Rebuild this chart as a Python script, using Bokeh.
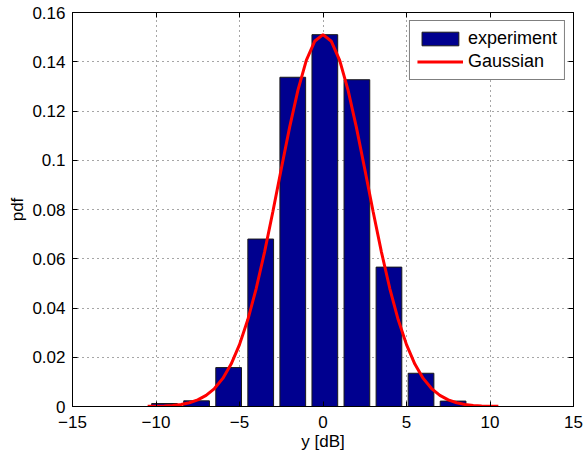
from bokeh.plotting import figure
from bokeh.models import Range1d, FixedTicker, LinearAxis, Legend, LegendItem
from bokeh.embed import file_html
from bokeh.resources import INLINE

# ---- data ----
bin_centers = [-9.49, -7.57, -5.65, -3.73, -1.81, 0.11, 2.03, 3.95, 5.87, 7.79]
pdf_values = [0.0012, 0.0023, 0.0158, 0.0680, 0.1337, 0.1510, 0.1327, 0.0566, 0.0135, 0.0022]

gauss_x = [-10.5, -10.0, -9.5, -9.0, -8.5, -8.0, -7.5, -7.0, -6.5, -6.0, -5.5, -5.0,
           -4.5, -4.0, -3.5, -3.0, -2.5, -2.0, -1.5, -1.0, -0.5, 0.0,
           0.5, 1.0, 1.5, 2.0, 2.5, 3.0, 3.5, 4.0, 4.5, 5.0, 5.5, 6.0,
           6.5, 7.0, 7.5, 8.0, 8.5, 9.0, 9.5, 10.0, 10.5]
gauss_y = [0.00006, 0.00012, 0.00023, 0.00045, 0.00085, 0.00153, 0.00267, 0.00449,
           0.00729, 0.01141, 0.01724, 0.02513, 0.03532, 0.04791, 0.06271, 0.07917,
           0.09643, 0.11334, 0.12849, 0.14055, 0.14831, 0.15100,
           0.14831, 0.14055, 0.12849, 0.11334, 0.09643, 0.07917, 0.06271, 0.04791,
           0.03532, 0.02513, 0.01724, 0.01141, 0.00729, 0.00449, 0.00267, 0.00153,
           0.00085, 0.00045, 0.00023, 0.00012, 0.00006]

x_ticks = [-15, -10, -5, 0, 5, 10, 15]
x_tick_labels = ["\u221215", "\u221210", "\u22125", "0", "5", "10", "15"]
y_ticks = [0, 0.02, 0.04, 0.06, 0.08, 0.1, 0.12, 0.14, 0.16]
y_tick_labels = ["0", "0.02", "0.04", "0.06", "0.08", "0.1", "0.12", "0.14", "0.16"]

series_names = ["experiment", "Gaussian"]
x_label = "y [dB]"
y_label = "pdf"

bar_width = 1.54
FONT = "Liberation Sans"
FS = "17px"

p = figure(width=584, height=454, output_backend="svg", toolbar_location=None,
           x_range=Range1d(-15, 15), y_range=Range1d(0, 0.16),
           min_border_left=72, min_border_right=11, min_border_top=12, min_border_bottom=48)
p.background_fill_color = "white"
p.border_fill_color = "white"
p.outline_line_color = "black"
p.outline_line_width = 1

bars = p.vbar(x=bin_centers, top=pdf_values, width=bar_width,
              fill_color="#00008F", line_color="#1a1a1a", line_width=1)
line = p.line(gauss_x, gauss_y, line_color="#FF0000", line_width=3)

xt = FixedTicker(ticks=x_ticks)
yt = FixedTicker(ticks=y_ticks)

for ax in p.xaxis:
    ax.ticker = xt
    ax.major_label_overrides = {t: l for t, l in zip(x_ticks, x_tick_labels)}
    ax.axis_label = x_label
    ax.major_label_standoff = 9
    ax.axis_label_standoff = 1
for ax in p.yaxis:
    ax.ticker = yt
    ax.major_label_overrides = {t: l for t, l in zip(y_ticks, y_tick_labels)}
    ax.axis_label = y_label
    ax.major_label_standoff = 7
    ax.axis_label_standoff = 2

for ax in list(p.xaxis) + list(p.yaxis):
    ax.major_tick_in = 5
    ax.major_tick_out = 0
    ax.minor_tick_line_color = None
    ax.axis_line_color = "black"
    ax.major_tick_line_color = "black"
    ax.major_label_text_font = FONT
    ax.major_label_text_font_size = FS
    ax.major_label_text_color = "black"
    ax.axis_label_text_font = FONT
    ax.axis_label_text_font_size = FS
    ax.axis_label_text_font_style = "normal"
    ax.axis_label_text_color = "black"

for side, tk in (("above", xt), ("right", yt)):
    a = LinearAxis(ticker=tk, major_label_text_font_size="0px", major_label_text_color=None,
                   major_label_standoff=0,
                   major_tick_in=5, major_tick_out=0, minor_tick_line_color=None,
                   axis_line_color="black", major_tick_line_color="black")
    p.add_layout(a, side)

p.xgrid.ticker = xt
p.ygrid.ticker = yt
for g in (p.xgrid, p.ygrid):
    g.grid_line_color = "#222222"
    g.grid_line_dash = "1 4"
    g.grid_line_width = 1
    g.grid_line_alpha = 0.8

legend = Legend(items=[LegendItem(label=series_names[0], renderers=[bars]),
                       LegendItem(label=series_names[1], renderers=[line])],
                location="top_right", margin=8, padding=7, spacing=2,
                glyph_width=46, glyph_height=17, label_standoff=5, label_height=17,
                label_text_font=FONT, label_text_font_size="18px", label_text_color="black",
                border_line_color="black", border_line_width=1, background_fill_alpha=1)
p.add_layout(legend)

open("out.html", "w").write(file_html(p, INLINE))
